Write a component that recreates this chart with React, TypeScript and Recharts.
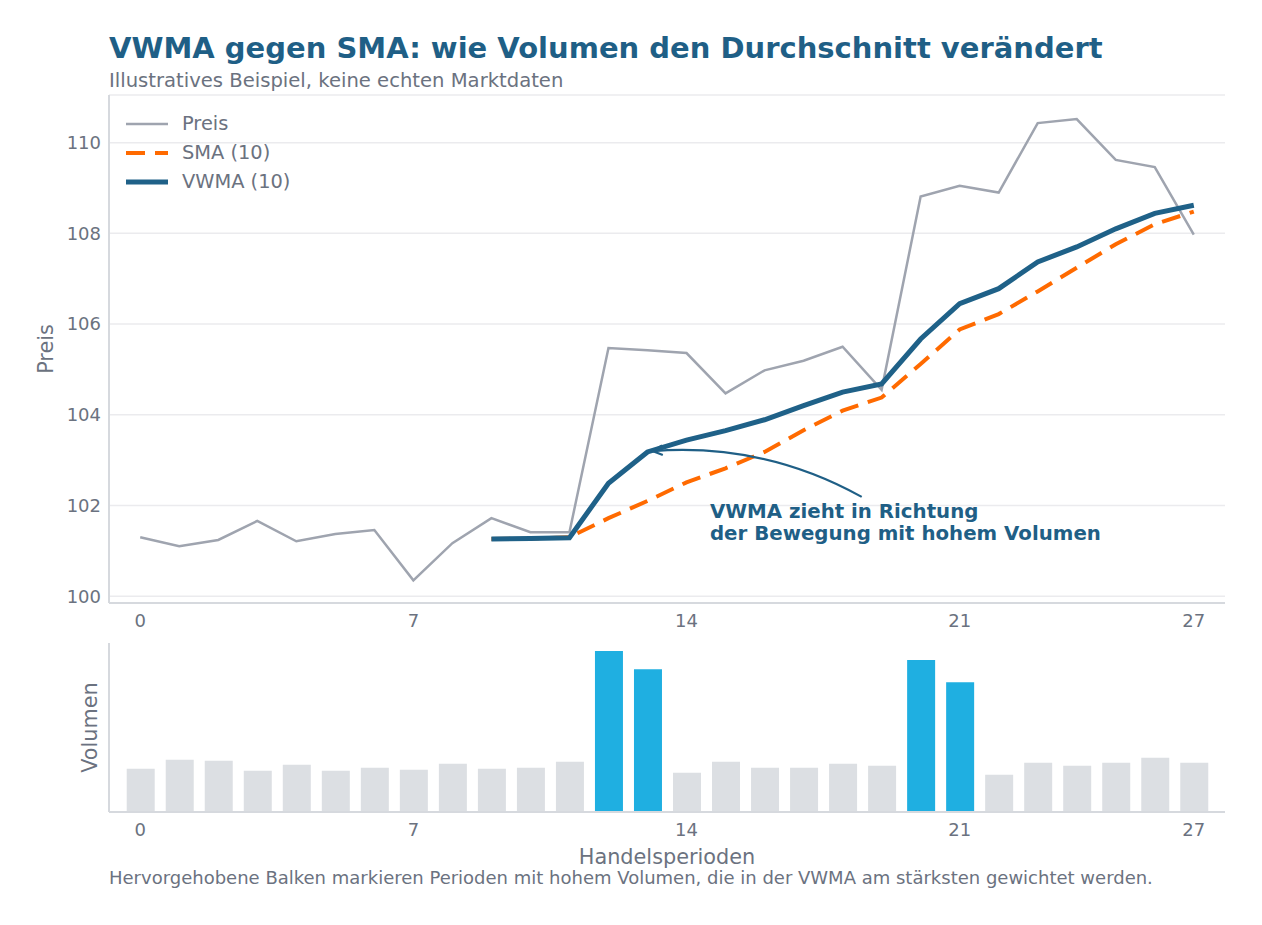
import React from 'react';
import {
  LineChart,
  Line,
  BarChart,
  Bar,
  Cell,
  XAxis,
  YAxis,
  CartesianGrid,
  Legend,
  ReferenceLine,
  ReferenceDot,
} from 'recharts';

// Trading periods on the shared x axis
const periods = [0, 1, 2, 3, 4, 5, 6, 7, 8, 9, 10, 11, 12, 13, 14, 15, 16, 17, 18, 19, 20, 21, 22, 23, 24, 25, 26, 27];

// Closing price per period
const price = [
  101.3, 101.1, 101.24, 101.66, 101.21, 101.37, 101.46, 100.35, 101.17, 101.72, 101.41, 101.41, 105.47, 105.42,
  105.36, 104.47, 104.98, 105.19, 105.5, 104.55, 108.81, 109.05, 108.9, 110.43, 110.52, 109.62, 109.46, 107.97,
];

// Simple moving average over 10 periods (first values undefined)
const sma10 = [
  null, null, null, null, null, null, null, null, null, 101.26, 101.27, 101.3, 101.72, 102.1, 102.51, 102.82,
  103.18, 103.66, 104.09, 104.38, 105.12, 105.88, 106.22, 106.72, 107.24, 107.76, 108.2, 108.48,
];

// Volume-weighted moving average over 10 periods
const vwma10 = [
  null, null, null, null, null, null, null, null, null, 101.26, 101.27, 101.29, 102.49, 103.18, 103.44, 103.65,
  103.89, 104.2, 104.5, 104.68, 105.67, 106.45, 106.78, 107.37, 107.7, 108.1, 108.44, 108.62,
];

// Traded volume per period
const volume = [
  1075, 1300, 1275, 1025, 1175, 1025, 1100, 1050, 1200, 1075, 1100, 1250, 4000, 3550, 975, 1250, 1100, 1100,
  1200, 1150, 3775, 3225, 925, 1225, 1150, 1225, 1350, 1225,
];

// Periods with unusually high volume
const highVolumePeriods = [12, 13, 20, 21];

const xTicks = [0, 7, 14, 21, 27];
const priceTicks = [100, 102, 104, 106, 108, 110];

const SMA_DASH = '19 10';

const legendItems = [
  { label: 'Preis', color: '#9fa4af', width: 2.5, dash: undefined as string | undefined },
  { label: 'SMA (10)', color: '#ff6a00', width: 4, dash: SMA_DASH },
  { label: 'VWMA (10)', color: '#1f6188', width: 5, dash: undefined as string | undefined },
];

const annotationLines = ['VWMA zieht in Richtung', 'der Bewegung mit hohem Volumen'];

const data = periods.map((p, i) => ({
  period: p,
  price: price[i],
  sma: sma10[i],
  vwma: vwma10[i],
  volume: volume[i],
}));

const FONT = '"DejaVu Sans", sans-serif';
const TEXT_GRAY = '#6b7280';
const AXIS_GRAY = '#d6d9de';
const ACCENT = '#1f5f86';

const tickStyle = { fill: TEXT_GRAY, fontSize: 18, fontFamily: FONT };

const verticalTitle = (text: string, cx: number) => (props: any) => {
  const vb = props.viewBox || {};
  const cy = vb.y + vb.height / 2;
  return (
    <text
      x={cx}
      y={cy}
      transform={`rotate(-90 ${cx} ${cy})`}
      textAnchor="middle"
      dominantBaseline="central"
      fill={TEXT_GRAY}
      fontSize={20.8}
      fontFamily={FONT}
    >
      {text}
    </text>
  );
};

const bottomTitle = (text: string, dy: number) => (props: any) => {
  const vb = props.viewBox || {};
  const cx = vb.x + vb.width / 2;
  return (
    <text
      x={cx}
      y={vb.y + dy}
      textAnchor="middle"
      dominantBaseline="central"
      fill={TEXT_GRAY}
      fontSize={20.8}
      fontFamily={FONT}
    >
      {text}
    </text>
  );
};

// Curved annotation arrow from the label towards the VWMA line
const CurvedArrow = (props: any) => {
  const { x1, y1, x2, y2 } = props;
  if ([x1, y1, x2, y2].some((v) => typeof v !== 'number' || Number.isNaN(v))) return null;
  const dx = x2 - x1;
  const dy = y2 - y1;
  const len = Math.sqrt(dx * dx + dy * dy);
  const mx = (x1 + x2) / 2;
  const my = (y1 + y2) / 2;
  // perpendicular pointing upward
  let nx = -dy / len;
  let ny = dx / len;
  if (ny > 0) {
    nx = -nx;
    ny = -ny;
  }
  const bend = len * 0.15;
  const cx = mx + nx * bend;
  const cy = my + ny * bend;
  // arrow head along the end tangent
  const tx = x2 - cx;
  const ty = y2 - cy;
  const tl = Math.sqrt(tx * tx + ty * ty);
  const ux = tx / tl;
  const uy = ty / tl;
  const head = 11;
  const spread = 0.45;
  const cos = Math.cos(spread);
  const sin = Math.sin(spread);
  const hx1 = x2 - head * (ux * cos - uy * sin);
  const hy1 = y2 - head * (uy * cos + ux * sin);
  const hx2 = x2 - head * (ux * cos + uy * sin);
  const hy2 = y2 - head * (uy * cos - ux * sin);
  return (
    <g>
      <path d={`M${x1},${y1} Q${cx},${cy} ${x2},${y2}`} fill="none" stroke={ACCENT} strokeWidth={2.2} />
      <path d={`M${hx1},${hy1} L${x2},${y2} L${hx2},${hy2}`} fill="none" stroke={ACCENT} strokeWidth={2.2} />
    </g>
  );
};

const AnnotationText = (props: any) => {
  const { cx, cy } = props;
  if (typeof cx !== 'number' || typeof cy !== 'number') return null;
  return (
    <text x={cx} y={cy} fill={ACCENT} fontSize={19.8} fontWeight="bold" fontFamily={FONT}>
      {annotationLines.map((line, i) => (
        <tspan key={line} x={cx} dy={i === 0 ? 0 : 22}>
          {line}
        </tspan>
      ))}
    </text>
  );
};

const renderLegend = () => (
  <div style={{ display: 'flex', flexDirection: 'column', fontFamily: FONT }}>
    {legendItems.map((item) => (
      <div key={item.label} style={{ display: 'flex', alignItems: 'center', height: 29 }}>
        <svg width={60} height={12} style={{ display: 'block' }}>
          <line
            x1={4}
            y1={6}
            x2={46}
            y2={6}
            stroke={item.color}
            strokeWidth={item.width}
            strokeDasharray={item.dash}
          />
        </svg>
        <span style={{ color: TEXT_GRAY, fontSize: 19.4, lineHeight: '29px' }}>{item.label}</span>
      </div>
    ))}
  </div>
);

export default function App() {
  return (
    <div
      style={{
        position: 'absolute',
        left: 0,
        top: 0,
        width: 1262,
        height: 925,
        background: '#ffffff',
        fontFamily: FONT,
        overflow: 'hidden',
      }}
    >
      <div
        style={{
          position: 'absolute',
          left: 109,
          top: 34,
          fontSize: 29,
          lineHeight: '29px',
          fontWeight: 'bold',
          color: ACCENT,
          whiteSpace: 'nowrap',
        }}
      >
        VWMA gegen SMA: wie Volumen den Durchschnitt verändert
      </div>
      <div
        style={{
          position: 'absolute',
          left: 109,
          top: 70.7,
          fontSize: 19.6,
          lineHeight: '19.6px',
          color: TEXT_GRAY,
          whiteSpace: 'nowrap',
        }}
      >
        Illustratives Beispiel, keine echten Marktdaten
      </div>

      <div style={{ position: 'absolute', left: 0, top: 0 }}>
        <LineChart width={1262} height={640} data={data} margin={{ top: 95, right: 37, bottom: 0, left: 0 }}>
          <CartesianGrid vertical={false} stroke="#ebebee" strokeWidth={1.5} />
          <XAxis
            dataKey="period"
            type="number"
            domain={[-0.8, 27.8]}
            allowDataOverflow
            ticks={xTicks}
            tickLine={false}
            tickSize={6}
            tickMargin={5}
            height={37}
            axisLine={{ stroke: AXIS_GRAY, strokeWidth: 2 }}
            tick={tickStyle}
          />
          <YAxis
            type="number"
            domain={[99.85, 111.05]}
            allowDataOverflow
            ticks={priceTicks}
            tickLine={false}
            tickSize={6}
            tickMargin={2}
            width={109}
            axisLine={{ stroke: AXIS_GRAY, strokeWidth: 2 }}
            tick={tickStyle}
            label={{ content: verticalTitle('Preis', 46) }}
          />
          <Legend
            layout="vertical"
            align="center"
            verticalAlign="middle"
            content={renderLegend}
            wrapperStyle={{ position: 'absolute', left: 122, top: 109, width: 'auto' }}
          />
          <Line
            type="linear"
            dataKey="price"
            name="Preis"
            stroke="#9fa4af"
            strokeWidth={2.5}
            dot={false}
            activeDot={false}
            isAnimationActive={false}
          />
          <Line
            type="linear"
            dataKey="sma"
            name="SMA (10)"
            stroke="#ff6a00"
            strokeWidth={4}
            strokeDasharray={SMA_DASH}
            dot={false}
            activeDot={false}
            isAnimationActive={false}
          />
          <Line
            type="linear"
            dataKey="vwma"
            name="VWMA (10)"
            stroke="#1f6188"
            strokeWidth={5}
            dot={false}
            activeDot={false}
            isAnimationActive={false}
          />
          <ReferenceLine
            segment={[
              { x: 18.49, y: 102.19 },
              { x: 13.13, y: 103.2 },
            ]}
            shape={CurvedArrow}
          />
          <ReferenceDot x={14.6} y={101.72} r={0} shape={AnnotationText} />
        </LineChart>
      </div>

      <div style={{ position: 'absolute', left: 0, top: 640 }}>
        <BarChart width={1262} height={240} data={data} margin={{ top: 3, right: 37, bottom: 0, left: 0 }}>
          <XAxis
            dataKey="period"
            type="number"
            domain={[-0.8, 27.8]}
            allowDataOverflow
            ticks={xTicks}
            tickLine={false}
            tickSize={6}
            tickMargin={5}
            height={68}
            axisLine={{ stroke: AXIS_GRAY, strokeWidth: 2 }}
            tick={tickStyle}
            label={{ content: bottomTitle('Handelsperioden', 45) }}
          />
          <YAxis
            type="number"
            domain={[0, 4200]}
            allowDataOverflow
            tick={false}
            tickLine={false}
            width={109}
            axisLine={{ stroke: AXIS_GRAY, strokeWidth: 2 }}
            label={{ content: verticalTitle('Volumen', 90) }}
          />
          <Bar dataKey="volume" barSize={28} isAnimationActive={false}>
            {data.map((d) => (
              <Cell key={d.period} fill={highVolumePeriods.includes(d.period) ? '#1fafe1' : '#dcdfe3'} />
            ))}
          </Bar>
        </BarChart>
      </div>

      <div
        style={{
          position: 'absolute',
          left: 109,
          top: 868.8,
          fontSize: 18,
          lineHeight: '18px',
          color: TEXT_GRAY,
          whiteSpace: 'nowrap',
        }}
      >
        Hervorgehobene Balken markieren Perioden mit hohem Volumen, die in der VWMA am stärksten gewichtet werden.
      </div>
    </div>
  );
}
